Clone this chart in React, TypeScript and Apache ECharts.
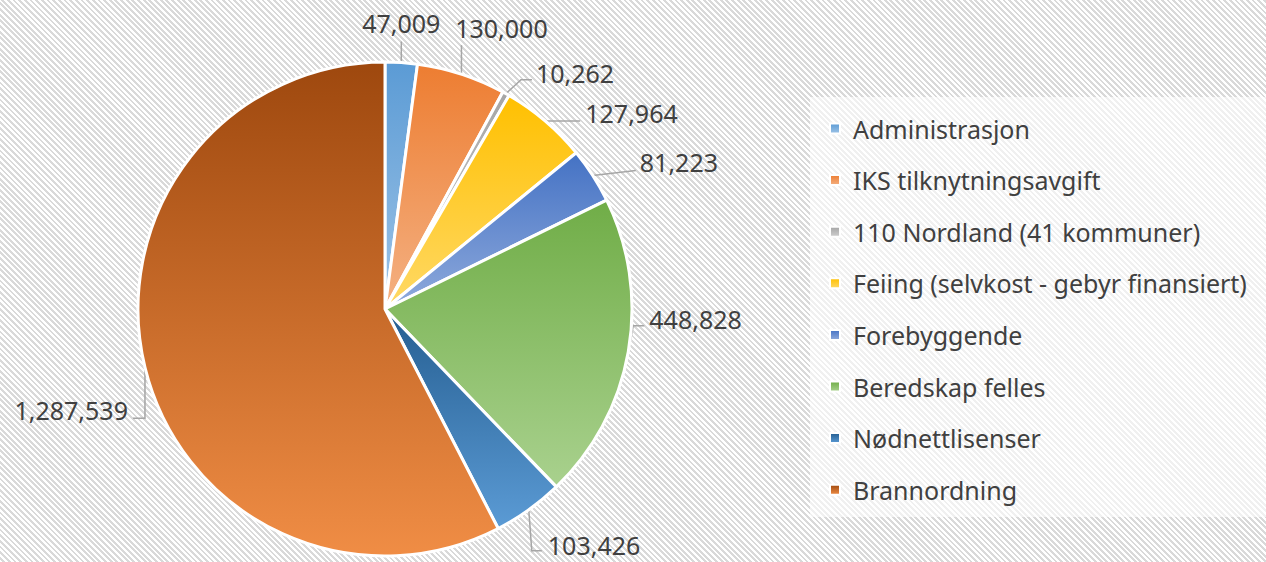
import React, { useEffect, useRef } from "react";
import * as echarts from "echarts";

const categories = [
  "Administrasjon",
  "IKS tilknytningsavgift",
  "110 Nordland (41 kommuner)",
  "Feiing (selvkost - gebyr finansiert)",
  "Forebyggende",
  "Beredskap felles",
  "Nødnettlisenser",
  "Brannordning",
];
const values = [47009, 130000, 10262, 127964, 81223, 448828, 103426, 1287539];
const topColors = ["#5B9BD5", "#ED7D31", "#A5A5A5", "#FFC000", "#4472C4", "#70AD47", "#255E91", "#9E480E"];
const bottomColors = ["#9DC3E6", "#F4B183", "#CFCFCF", "#FFD966", "#8FAADC", "#A9D18E", "#5B9BD5", "#F08D45"];

// label leader-line layout (offsets from the slice's edge anchor), Excel-like
type LL = { line: number[][]; tx: number; ty: number; align: string };
const labelLayouts: LL[] = [
  { line: [[0, -21]], tx: 0, ty: -40, align: "center" },
  { line: [[0, -29]], tx: 40, ty: -46, align: "center" },
  { line: [[15, -14], [26, -14]], tx: 30, ty: -21, align: "left" },
  { line: [[35, 0]], tx: 40, ty: -8, align: "left" },
  { line: [[43, -5]], tx: 47, ty: -14, align: "left" },
  { line: [[5, -26], [16, -26]], tx: 21, ty: -33, align: "left" },
  { line: [[3, 41], [13, 41]], tx: 19, ty: 35, align: "left" },
  { line: [[0, 51], [-12, 51]], tx: -17, ty: 43, align: "right" },
];

const FONT = "Noto Sans";
const CX = 385;
const CY = 309;
const R = 247;

export default function App() {
  const ref = useRef<HTMLDivElement>(null);
  useEffect(() => {
    if (!ref.current) return;
    const chart = echarts.init(ref.current, null, { renderer: "svg" });
    const total = values.reduce((a, b) => a + b, 0);
    const data = categories.map((name, i) => ({
      name,
      value: values[i],
      itemStyle: {
        color: new echarts.graphic.LinearGradient(0, 0, 0, 1, [
          { offset: 0, color: topColors[i] },
          { offset: 1, color: bottomColors[i] },
        ]),
      },
    }));
    const anchorFor = (idx: number, params: any) => {
      const pts = params && params.labelLinePoints;
      if (pts && pts.length) return [pts[0][0], pts[0][1]];
      let cum = 0;
      for (let k = 0; k < idx; k++) cum += values[k];
      const mid = ((cum + values[idx] / 2) / total) * Math.PI * 2;
      return [CX + R * Math.sin(mid), CY - R * Math.cos(mid)];
    };
    chart.setOption({
      animation: false,
      backgroundColor: "transparent",
      graphic: [
        {
          type: "rect",
          shape: { x: 810, y: 97, width: 456, height: 420 },
          style: { fill: "rgba(255,255,255,0.6)" },
          silent: true,
          z: -1,
        },
      ],
      legend: {
        orient: "vertical",
        left: 824,
        top: 111,
        itemWidth: 10,
        itemHeight: 10,
        itemGap: 26.6,
        icon: "rect",
        textStyle: { fontFamily: FONT, fontSize: 25, color: "#404040", padding: [0, 0, 0, 8] },
        data: categories,
      },
      series: [
        {
          type: "pie",
          center: [CX, CY],
          radius: R,
          startAngle: 90,
          clockwise: true,
          data,
          itemStyle: { borderColor: "#ffffff", borderWidth: 3 },
          label: {
            show: true,
            formatter: (p: any) => p.value.toLocaleString("en-US"),
            fontFamily: FONT,
            fontSize: 25,
            color: "#404040",
            overflow: "none",
          },
          labelLine: {
            show: true,
            length: 18,
            length2: 10,
            lineStyle: { color: "#A6A6A6", width: 1.5 },
          },
          labelLayout: (params: any) => {
            const i = params.dataIndex;
            const L = labelLayouts[i];
            const a = anchorFor(i, params);
            const pts = [[a[0], a[1]], ...L.line.map((p) => [a[0] + p[0], a[1] + p[1]])];
            if (pts.length === 2) pts.push([pts[1][0], pts[1][1]]);
            return {
              x: a[0] + L.tx,
              y: a[1] + L.ty,
              align: L.align,
              verticalAlign: "middle",
              labelLinePoints: pts,
              hideOverlap: false,
              moveOverlap: undefined,
            };
          },
          emphasis: { disabled: true },
        },
      ],
    });
    return () => chart.dispose();
  }, []);
  return (
    <div
      ref={ref}
      style={{
        position: "fixed",
        left: 0,
        top: 0,
        width: 1266,
        height: 562,
        background: "repeating-linear-gradient(45deg, #ffffff 0px, #ffffff 2px, #d9d9d9 2px, #d9d9d9 4px)",
      }}
    />
  );
}
